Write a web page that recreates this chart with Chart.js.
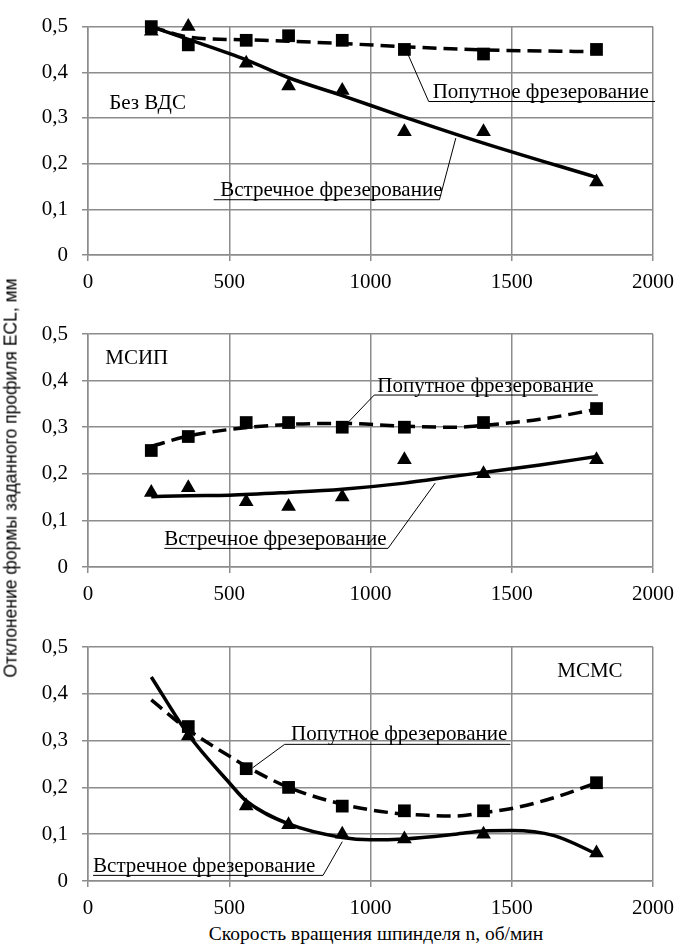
<!DOCTYPE html>
<html><head><meta charset="utf-8">
<script src="https://cdn.jsdelivr.net/npm/chart.js@4"></script>
<style>
body{margin:0;background:#fff;width:683px;height:945px;position:relative;overflow:hidden;}
canvas{position:absolute;left:0;}
#yt{position:absolute;left:11px;top:478px;transform:translate(-50%,-50%) rotate(-90deg);white-space:nowrap;font-size:17.5px;font-family:"Liberation Sans",Arial,sans-serif;color:#000;}
#xt{position:absolute;left:376px;top:934px;transform:translate(-50%,-50%);white-space:nowrap;font-size:19.5px;font-family:"Liberation Serif","Times New Roman",Tinos,"Noto Serif","DejaVu Serif",serif;color:#000;}
</style></head>
<body>
<canvas id="c1" width="683" height="295" style="top:0px"></canvas>
<canvas id="c2" width="683" height="307" style="top:300px"></canvas>
<canvas id="c3" width="683" height="311" style="top:610px"></canvas>
<div id="yt">Отклонение формы заданного профиля ECL, мм</div>
<div id="xt">Скорость вращения шпинделя n, об/мин</div>
<script>
// ---- data ----
const speeds = [224, 355, 560, 710, 900, 1120, 1400, 1800];
const xTicks = [0, 500, 1000, 1500, 2000];
const yTicks = [0, 0.1, 0.2, 0.3, 0.4, 0.5];

// Panel 1: Без ВДС
const p1Climb = [0.50, 0.46, 0.47, 0.48, 0.47, 0.45, 0.44, 0.45];
const p1Conv  = [0.49, 0.50, 0.42, 0.37, 0.36, 0.27, 0.27, 0.16];
const p1FitX  = [224, 355, 560, 710, 900, 1120, 1400, 1800];
const p1ClimbFit = [0.50, 0.477, 0.471, 0.468, 0.463, 0.456, 0.449, 0.445];
const p1ConvFit  = [0.50, 0.472, 0.427, 0.388, 0.349, 0.302, 0.245, 0.17];

// Panel 2: МСИП
const p2Climb = [0.25, 0.28, 0.31, 0.31, 0.30, 0.30, 0.31, 0.34];
const p2Conv  = [0.16, 0.17, 0.14, 0.13, 0.15, 0.23, 0.20, 0.23];
const p2FitX  = [224, 355, 500, 710, 900, 1120, 1300, 1400, 1600, 1800];
const p2ClimbFit = [0.259, 0.281, 0.295, 0.306, 0.308, 0.302, 0.300, 0.304, 0.317, 0.338];
const p2ConvFit  = [0.151, 0.153, 0.154, 0.160, 0.167, 0.180, 0.195, 0.203, 0.219, 0.237];

// Panel 3: МСМС
const p3Speeds = [355, 560, 710, 900, 1120, 1400, 1800];
const p3Climb = [0.33, 0.24, 0.20, 0.16, 0.15, 0.15, 0.21];
const p3Conv  = [0.31, 0.16, 0.12, 0.10, 0.09, 0.10, 0.06];
const p3FitX  = [224, 355, 500, 560, 710, 900, 1000, 1120, 1300, 1400, 1500, 1650, 1800];
const p3ClimbFit = [0.387, 0.323, 0.267, 0.245, 0.200, 0.164, 0.152, 0.143, 0.139, 0.146, 0.155, 0.178, 0.21];
const p3ConvFit  = [0.436, 0.313, 0.210, 0.171, 0.122, 0.093, 0.088, 0.090, 0.100, 0.107, 0.108, 0.097, 0.058];

const labelClimb = 'Попутное фрезерование';
const labelConv = 'Встречное фрезерование';

// ---- helpers ----
const SERIF = '"Liberation Serif", "Times New Roman", Tinos, "Noto Serif", "DejaVu Serif", serif';
const pts = (xs, ys) => xs.map((v, i) => ({x: v, y: ys[i]}));
const GRID = '#8c8c8c';

const annot = {
  id: 'annot',
  afterDatasetsDraw(chart, args, opts) {
    const {ctx} = chart;
    const x = chart.scales.x, y = chart.scales.y;
    const px = v => x.getPixelForValue(v), py = v => y.getPixelForValue(v);
    ctx.save();
    ctx.fillStyle = '#000'; ctx.strokeStyle = '#000'; ctx.lineWidth = 1;
    ctx.font = '21px ' + SERIF;
    ctx.textBaseline = 'middle'; ctx.textAlign = 'left';
    for (const it of opts.items) {
      if (it.text) ctx.fillText(it.text, px(it.tx), py(it.ty));
      if (it.path) {
        ctx.beginPath();
        it.path.forEach((p, i) => { const X = px(p[0]), Y = py(p[1]); i ? ctx.lineTo(X, Y) : ctx.moveTo(X, Y); });
        ctx.stroke();
      }
    }
    ctx.restore();
  }
};

function makeChart(id, padTop, climbX, climb, conv, fitX, climbFit, convFit, items) {
  new Chart(document.getElementById(id), {
    type: 'scatter',
    data: {
      datasets: [
        {data: pts(fitX, climbFit), showLine: true, borderColor: '#000', borderWidth: 3.5, borderDash: [14, 7], pointRadius: 0, cubicInterpolationMode: 'monotone', clip: false},
        {data: pts(fitX, convFit), showLine: true, borderColor: '#000', borderWidth: 3.5, pointRadius: 0, cubicInterpolationMode: 'monotone', clip: false},
        {label: labelClimb, data: pts(climbX, climb), pointStyle: 'rect', pointRadius: 9, backgroundColor: '#000', borderColor: '#000', borderWidth: 0, clip: false},
        {label: labelConv, data: pts(climbX, conv), pointStyle: 'triangle', pointRadius: 8.5, backgroundColor: '#000', borderColor: '#000', borderWidth: 0, clip: false}
      ]
    },
    options: {
      responsive: false, animation: false, events: [],
      layout: {padding: {top: padTop, right: 23, left: 0, bottom: 0}},
      plugins: {legend: {display: false}, tooltip: {enabled: false}, annot: {items}},
      scales: {
        x: {
          type: 'linear', min: 0, max: 2000,
          afterBuildTicks: s => { s.ticks = xTicks.map(v => ({value: v})); },
          afterFit: s => { s.height = 40; },
          grid: {color: GRID, lineWidth: 1.5, tickLength: 6, tickColor: GRID},
          border: {color: GRID, width: 1.5},
          ticks: {color: '#000', padding: 9, font: {family: SERIF, size: 21}, maxRotation: 0,
                  callback: v => String(v)}
        },
        y: {
          min: 0, max: 0.5,
          afterBuildTicks: s => { s.ticks = yTicks.map(v => ({value: v})); },
          afterFit: s => { s.width = 88; },
          grid: {color: GRID, lineWidth: 1.5, tickLength: 6, tickColor: GRID},
          border: {color: GRID, width: 1.5},
          ticks: {color: '#000', padding: 14, font: {family: SERIF, size: 21},
                  callback: v => v === 0 ? '0' : v.toFixed(1).replace('.', ',')}
        }
      }
    },
    plugins: [annot]
  });
}

makeChart('c1', 23, speeds, p1Climb, p1Conv, p1FitX, p1ClimbFit, p1ConvFit, [
  {text: 'Без ВДС', tx: 75, ty: 0.331},
  {text: labelClimb, tx: 1220, ty: 0.356, path: [[1125, 0.45], [1206, 0.336], [2007, 0.336]]},
  {text: labelConv, tx: 468, ty: 0.141, path: [[445, 0.121], [1244, 0.121], [1302, 0.256]]}
]);
makeChart('c2', 34, speeds, p2Climb, p2Conv, p2FitX, p2ClimbFit, p2ConvFit, [
  {text: 'МСИП', tx: 61, ty: 0.447},
  {text: labelClimb, tx: 1024, ty: 0.387, path: [[917, 0.308], [1013, 0.369], [1805, 0.369]]},
  {text: labelConv, tx: 270, ty: 0.06, path: [[270, 0.04], [1062, 0.04], [1229, 0.18]]}
]);
makeChart('c3', 37, p3Speeds, p3Climb, p3Conv, p3FitX, p3ClimbFit, p3ConvFit, [
  {text: 'МСМС', tx: 1661, ty: 0.447},
  {text: labelClimb, tx: 719, ty: 0.314, path: [[583, 0.242], [696, 0.292], [1495, 0.292]]},
  {text: labelConv, tx: 18, ty: 0.032, path: [[18, 0.012], [832, 0.012], [900, 0.084]]}
]);
</script>
</body></html>
